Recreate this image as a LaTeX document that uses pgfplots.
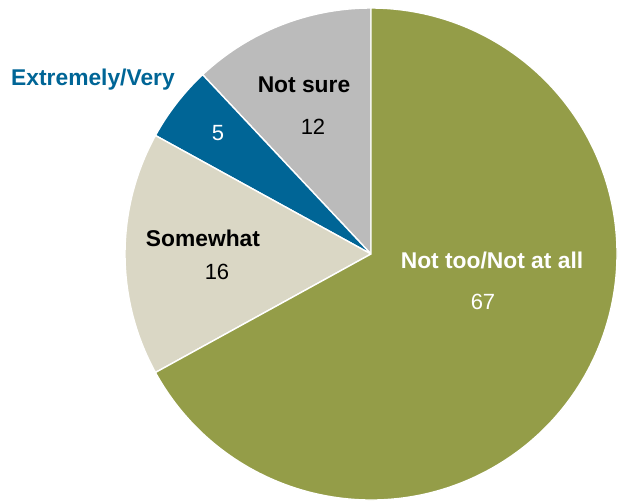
\documentclass[border=0pt]{standalone}
\usepackage{pgfplots}
\usepackage{pgfplotstable}
\pgfplotsset{compat=1.18}
\usepackage{fontspec}
\setmainfont{Liberation Sans}
\definecolor{cNT}{HTML}{949D48}
\definecolor{cSW}{HTML}{DAD7C5}
\definecolor{cEV}{HTML}{006596}
\definecolor{cNS}{HTML}{BBBBBB}

% slices counterclockwise from 12 o'clock
\pgfplotstableread{
label value
NotSure 12
Extremely 5
Somewhat 16
NotToo 67
}\piedata
\pgfplotstablegetelem{0}{value}\of\piedata \let\vA\pgfplotsretval
\pgfplotstablegetelem{1}{value}\of\piedata \let\vB\pgfplotsretval
\pgfplotstablegetelem{2}{value}\of\piedata \let\vC\pgfplotsretval
\pgfplotstablegetelem{3}{value}\of\piedata \let\vD\pgfplotsretval
\pgfmathsetmacro{\aA}{90+3.6*\vA}
\pgfmathsetmacro{\aB}{\aA+3.6*\vB}
\pgfmathsetmacro{\aC}{\aB+3.6*\vC}
\pgfmathsetmacro{\aD}{\aC+3.6*\vD}

\begin{document}
\begin{tikzpicture}
\begin{axis}[
  scale only axis, width=309pt, height=250pt,
  xmin=0, xmax=618, ymin=0, ymax=500,
  hide axis, clip=false,
]
\coordinate (BL) at (axis cs:0,0);
\coordinate (TR) at (axis cs:618,500);
\def\R{123pt}
\filldraw[fill=cNS, draw=white, line width=0.7pt] (axis cs:371,246) -- ++(90:\R) arc[start angle=90, end angle=\aA, radius=\R] -- cycle;
\filldraw[fill=cEV, draw=white, line width=0.7pt] (axis cs:371,246) -- ++(\aA:\R) arc[start angle=\aA, end angle=\aB, radius=\R] -- cycle;
\filldraw[fill=cSW, draw=white, line width=0.7pt] (axis cs:371,246) -- ++(\aB:\R) arc[start angle=\aB, end angle=\aC, radius=\R] -- cycle;
\filldraw[fill=cNT, draw=white, line width=0.7pt] (axis cs:371,246) -- ++(\aC:\R) arc[start angle=\aC, end angle=\aD, radius=\R] -- cycle;

\node[font=\fontsize{11.4pt}{13pt}\selectfont\bfseries, text=cEV] at (axis cs:93,420) {Extremely/Very};
\node[font=\fontsize{11pt}{13pt}\selectfont, text=white] at (axis cs:218,367) {5};
\node[font=\fontsize{11.4pt}{13pt}\selectfont\bfseries, text=black] at (axis cs:304,415) {Not sure};
\node[font=\fontsize{11pt}{13pt}\selectfont, text=black] at (axis cs:313,373) {12};
\node[font=\fontsize{11.4pt}{13pt}\selectfont\bfseries, text=black] at (axis cs:203,262) {Somewhat};
\node[font=\fontsize{11pt}{13pt}\selectfont, text=black] at (axis cs:217,228) {16};
\node[font=\fontsize{11.4pt}{13pt}\selectfont\bfseries, text=white] at (axis cs:492,240) {Not too/Not at all};
\node[font=\fontsize{11pt}{13pt}\selectfont, text=white] at (axis cs:483,198) {67};
\end{axis}
\pgfresetboundingbox
\useasboundingbox (BL) rectangle (TR);
\end{tikzpicture}
\end{document}
